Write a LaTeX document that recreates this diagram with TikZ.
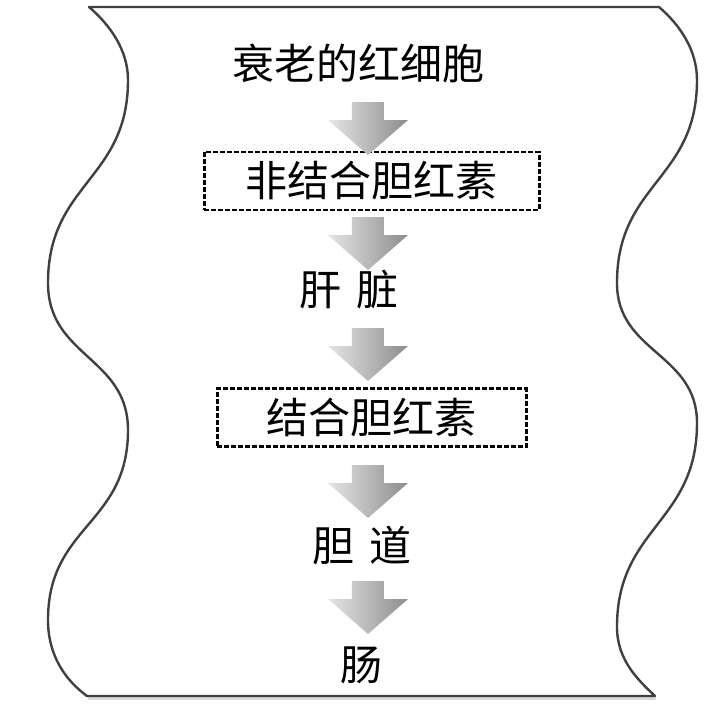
\documentclass[tikz,border=0pt]{standalone}
\usepackage{fontspec}
\usepackage{tikz}
\usepackage{xcolor}
\newfontfamily\cjk{Noto Sans CJK SC}

\tikzset{
    txt/.style={inner sep=0pt, font=\cjk\fontsize{21}{25}\selectfont},
    dashbox/.style={txt, draw, line width=1.2pt, dash pattern=on 2.5pt off 1pt,
        minimum height=29pt},
    edge/.style={draw=black!75, line width=1.2pt, line join=round},
    downarrow/.pic={
        \shade[left color=gray!20, right color=gray!90]
            (-16,0) -- (16,0) -- (16,18) -- (40,18) -- (0,53) -- (-40,18) -- (-16,18) -- cycle;
    }
}

\begin{document}
\begin{tikzpicture}[x=0.5pt, y=-0.5pt]
        \useasboundingbox (0,0) rectangle (720,708);

        \draw[edge, draw=gray!30, shift={(1.5,2.5)}] (87,696) -- (655,696);
        \draw[edge] (89,7) -- (659,7)
            .. controls (680,25) and (697,50) .. (697,80)
            .. controls (697,180) and (617,183) .. (617,283)
            .. controls (617,353) and (697,353) .. (697,423)
            .. controls (697,523) and (617,527) .. (617,627)
            .. controls (617,660) and (638,680) .. (655,696)
            -- (87,696)
            .. controls (65,680) and (48,655) .. (48,620)
            .. controls (48,525) and (128,525) .. (128,430)
            .. controls (128,357) and (48,357) .. (48,283)
            .. controls (48,183) and (128,180) .. (128,80)
            .. controls (128,50) and (110,25) .. (89,7) -- cycle;

        \node (n1) at (359,63) [txt] {衰老的红细胞};
        \node (n2) at (372,181) [dashbox, minimum width=167.5pt] {非结合胆红素};
        \node (n3) at (349,290) [txt] {肝\hspace{0.35em}脏};
        \node (n4) at (372,417.5) [dashbox, minimum width=154.5pt] {结合胆红素};
        \node (n5) at (362,545) [txt] {胆\hspace{0.35em}道};
        \node (n6) at (362,665) [txt] {肠};

        \pic (a1) at (368,102) {downarrow};
        \pic (a2) at (368,217) {downarrow};
        \pic (a3) at (368,328) {downarrow};
        \pic (a4) at (368,465) {downarrow};
        \pic (a5) at (368,581) {downarrow};
    \end{tikzpicture}
\end{document}
